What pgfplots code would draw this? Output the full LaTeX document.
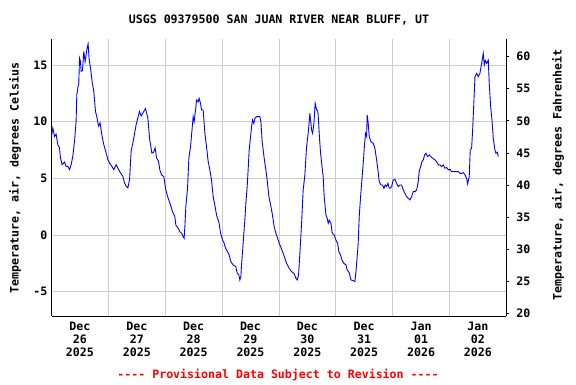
\documentclass[border=0pt]{standalone}
\usepackage{pgfplots}
\pgfplotsset{compat=1.18}
\usepackage{fontspec}
\setmainfont{DejaVu Sans Mono}[Ligatures=NoCommon]
\definecolor{gridgray}{RGB}{204,204,204}
\definecolor{usgsblue}{RGB}{0,0,255}
\definecolor{provred}{RGB}{255,0,0}
\begin{document}
\fontsize{11.6bp}{13bp}\selectfont\bfseries
\begin{tikzpicture}[x=1bp,y=1bp]
\useasboundingbox (0,0) rectangle (576,384);
\begin{axis}[
  at={(51.5bp,67.7bp)}, anchor=south west,
  scale only axis, width=454.8bp, height=277bp,
  xmin=0, xmax=8, ymin=-7.18, ymax=17.27,
  axis line style={black, line width=1bp},
  xtick={0.5,1.5,...,7.5},
  xticklabels={{Dec\\26\\2025},{Dec\\27\\2025},{Dec\\28\\2025},{Dec\\29\\2025},{Dec\\30\\2025},{Dec\\31\\2025},{Jan\\01\\2026},{Jan\\02\\2026}},
  xticklabel style={align=center, font=\fontsize{11.6bp}{13bp}\selectfont\bfseries, yshift=-2bp},
  minor xtick={1,2,...,7},
  xminorgrids=true, xmajorgrids=false,
  ytick={-5,0,5,10,15},
  ymajorgrids=true,
  grid style={gridgray, line width=0.8bp},
  minor grid style={gridgray, line width=0.8bp},
  major tick length=0pt, minor tick length=0pt,
  yticklabel style={font=\fontsize{11.6bp}{13bp}\selectfont\bfseries},
  /pgf/number format/assume math mode=true,
  axis y line*=left, axis x line*=bottom,
  clip=true,
]
\addplot[usgsblue, line width=0.9bp, sharp plot] coordinates {
(0.005,8.85) (0.023,9.44) (0.053,8.7) (0.081,8.9) (0.111,7.97) (0.141,7.68)
(0.158,6.8) (0.187,6.2) (0.229,6.44) (0.257,6.06) (0.287,6.06) (0.317,5.77)
(0.345,6.2) (0.375,6.94) (0.405,8.27) (0.433,10.03) (0.445,12.38) (0.463,12.97)
(0.480,13.4) (0.493,15.6) (0.510,15.3) (0.521,14.45) (0.545,14.5) (0.568,16.2)
(0.591,15.3) (0.626,16.5) (0.644,16.86) (0.662,15.5) (0.686,14.74) (0.714,13.56)
(0.744,12.68) (0.774,10.9) (0.802,10.3) (0.827,9.6) (0.855,9.88) (0.885,8.85)
(0.920,7.97) (0.961,7.24) (0.991,6.65) (1.021,6.35) (1.049,6.15) (1.096,5.77)
(1.137,6.2) (1.167,5.9) (1.214,5.47) (1.255,5.18) (1.285,4.59) (1.313,4.3)
(1.343,4.15) (1.373,4.88) (1.401,7.38) (1.448,8.56) (1.489,9.74) (1.519,10.33)
(1.548,10.9) (1.577,10.5) (1.607,10.77) (1.654,11.15) (1.695,10.33) (1.724,8.56)
(1.765,7.24) (1.795,7.3) (1.823,7.68) (1.848,6.8) (1.883,6.5) (1.906,5.74)
(1.936,5.3) (1.976,5.15) (2.011,3.97) (2.052,3.24) (2.094,2.65) (2.129,2.06)
(2.170,1.62) (2.187,0.88) (2.228,0.59) (2.258,0.29) (2.288,0.15) (2.316,-0.15)
(2.333,-0.29) (2.346,0.73) (2.363,2.5) (2.393,4.12) (2.416,6.77) (2.446,7.8)
(2.469,9.12) (2.492,10.44) (2.509,10.0) (2.534,11.03) (2.551,11.9) (2.580,11.75)
(2.597,12.06) (2.622,11.6) (2.639,11.03) (2.668,11.03) (2.698,8.97) (2.727,7.8)
(2.756,6.47) (2.786,5.74) (2.815,4.85) (2.844,3.38) (2.873,2.65) (2.903,1.77)
(2.949,1.03) (2.974,0.15) (3.009,-0.44) (3.037,-0.73) (3.062,-1.17) (3.097,-1.47)
(3.125,-1.77) (3.155,-2.36) (3.196,-2.65) (3.243,-2.8) (3.266,-3.38) (3.296,-3.53)
(3.313,-3.97) (3.331,-3.68) (3.343,-2.65) (3.371,-0.73) (3.401,1.32) (3.419,2.8)
(3.442,4.26) (3.459,5.74) (3.477,7.5) (3.502,8.68) (3.519,9.56) (3.537,10.15)
(3.560,9.85) (3.577,10.3) (3.607,10.44) (3.635,10.44) (3.665,10.44) (3.683,10.0)
(3.706,8.23) (3.741,6.77) (3.771,5.74) (3.794,4.85) (3.824,3.38) (3.854,2.65)
(3.882,1.91) (3.917,0.73) (3.947,0.15) (3.977,-0.29) (4.005,-0.73) (4.030,-1.03)
(4.075,-1.62) (4.105,-2.06) (4.135,-2.5) (4.181,-2.94) (4.223,-3.24) (4.264,-3.38)
(4.299,-3.82) (4.322,-3.97) (4.346,-3.53) (4.369,-1.62) (4.399,1.03) (4.427,3.97)
(4.457,5.3) (4.487,7.8) (4.515,8.97) (4.533,10.0) (4.545,10.74) (4.575,9.27)
(4.593,8.97) (4.616,9.86) (4.638,11.62) (4.663,11.03) (4.681,11.0) (4.691,10.59)
(4.709,8.97) (4.733,7.21) (4.762,5.89) (4.779,5.15) (4.797,3.38) (4.827,1.77)
(4.850,1.47) (4.867,1.03) (4.885,1.3) (4.915,1.03) (4.938,0.15) (4.973,0.0)
(5.003,-0.44) (5.033,-0.73) (5.055,-1.47) (5.085,-1.77) (5.108,-2.2) (5.143,-2.5)
(5.179,-2.65) (5.201,-3.09) (5.237,-3.33) (5.267,-3.97) (5.307,-4.03) (5.337,-4.12)
(5.355,-3.24) (5.377,-1.91) (5.395,-0.73) (5.413,1.62) (5.437,3.38) (5.460,4.85)
(5.483,6.33) (5.508,8.09) (5.525,8.97) (5.543,8.7) (5.553,10.59) (5.571,9.86)
(5.589,8.68) (5.618,8.23) (5.659,8.09) (5.689,7.65) (5.719,6.62) (5.742,5.74)
(5.765,4.7) (5.795,4.41) (5.824,4.41) (5.847,4.12) (5.870,4.41) (5.895,4.27)
(5.918,4.56) (5.941,4.12) (5.953,4.12) (5.983,4.27) (6.011,4.85) (6.041,4.91)
(6.071,4.56) (6.099,4.27) (6.129,4.41) (6.159,4.41) (6.187,3.97) (6.217,3.68)
(6.247,3.38) (6.275,3.24) (6.305,3.09) (6.335,3.38) (6.363,3.82) (6.393,3.82)
(6.423,3.97) (6.451,4.7) (6.468,5.59) (6.493,6.03) (6.516,6.47) (6.539,6.62)
(6.563,7.06) (6.586,7.21) (6.616,6.91) (6.644,7.06) (6.674,6.91) (6.704,6.77)
(6.745,6.62) (6.775,6.47) (6.803,6.18) (6.833,6.18) (6.863,6.03) (6.891,6.18)
(6.921,5.89) (6.951,5.95) (6.979,5.74) (7.009,5.8) (7.038,5.59) (7.097,5.59)
(7.155,5.59) (7.185,5.44) (7.215,5.44) (7.243,5.5) (7.273,5.3) (7.302,5.0)
(7.320,4.5) (7.348,5.15) (7.366,7.5) (7.390,7.65) (7.408,9.27) (7.431,11.92)
(7.449,13.97) (7.478,14.27) (7.507,13.97) (7.536,14.27) (7.566,15.15) (7.595,16.03)
(7.612,15.0) (7.630,15.4) (7.654,15.15) (7.683,15.44) (7.700,13.39) (7.725,11.32)
(7.748,10.15) (7.771,8.53) (7.800,7.5) (7.818,7.21) (7.841,7.3) (7.859,6.91)
};
\end{axis}
\begin{axis}[
  at={(51.5bp,67.7bp)}, anchor=south west,
  scale only axis, width=454.8bp, height=277bp,
  xmin=0, xmax=8, ymin=19.53, ymax=62.71,
  axis x line=none, axis y line*=right,
  axis line style={black, line width=1bp},
  ytick={20,25,...,60},
  tick align=outside, major tick length=3bp,
  tick style={black, line width=0.8bp},
  yticklabel style={font=\fontsize{11.6bp}{13bp}\selectfont\bfseries, xshift=3bp},
  /pgf/number format/assume math mode=true,
]
\addplot[draw=none] coordinates {(0,40)};
\end{axis}
\node at (279,364) {USGS 09379500 SAN JUAN RIVER NEAR BLUFF, UT};
\node[text=provred] at (278,9) {-{}-{}-{}- Provisional Data Subject to Revision -{}-{}-{}-};
\node[rotate=90] at (15,206) {Temperature, air, degrees Celsius};
\node[rotate=90] at (558,209) {Temperature, air, degrees Fahrenheit};
\end{tikzpicture}
\end{document}
